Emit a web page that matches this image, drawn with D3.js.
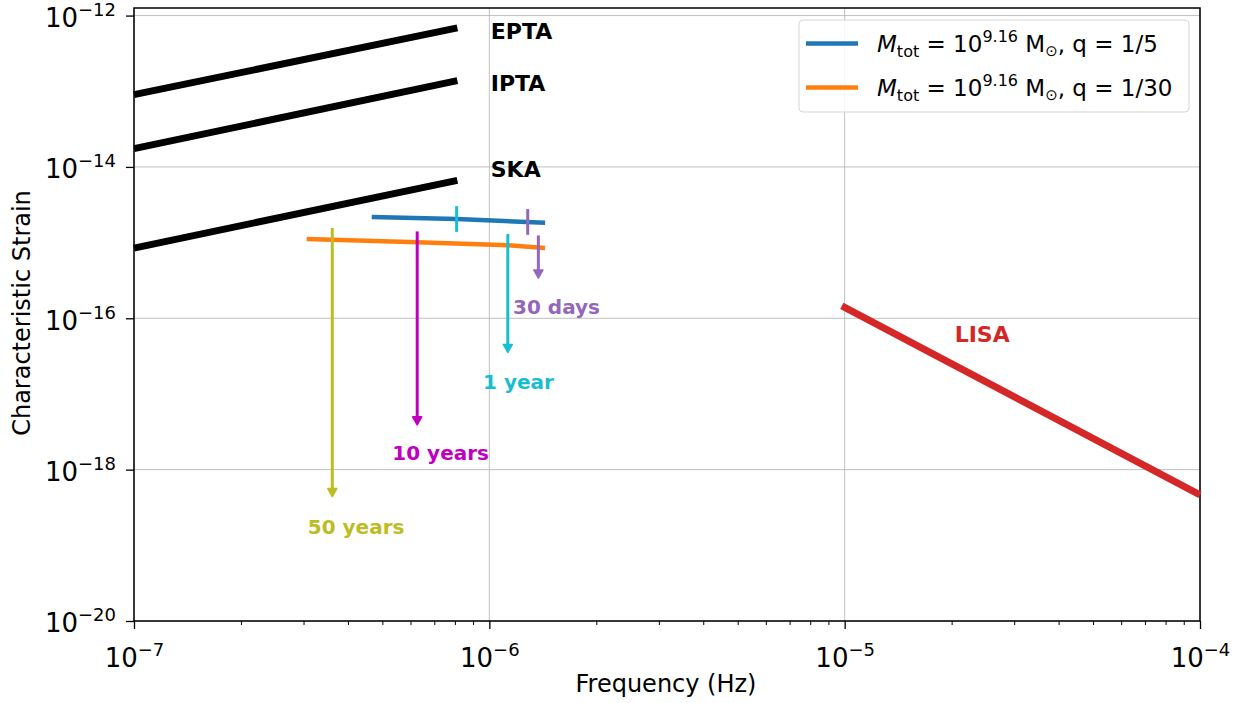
<!DOCTYPE html>
<html>
<head>
<meta charset="utf-8">
<script src="https://cdn.jsdelivr.net/npm/d3@7"></script>
<style>
  body { margin: 0; background: #fff; }
  svg { font-family: "DejaVu Sans", sans-serif; }
</style>
</head>
<body>
<svg id="canvas" width="1249" height="703"></svg>
<script>
var width = 1249, height = 703
var margin = {left: 134, right: 49, top: 8, bottom: 82}

// PTA sensitivity curves (log10 f, log10 h)
var ptaNames = ['EPTA', 'IPTA', 'SKA']
var ptaStart = [[-7, -13.045], [-7, -13.759], [-7, -15.072]]
var ptaEnd = [[-6.090, -12.163], [-6.090, -12.860], [-6.090, -14.178]]
var ptaLabelPos = [[-5.996, -12.208], [-5.996, -12.890], [-5.996, -14.027]]

// LISA
var lisaLine = [[-5.008, -15.835], [-4.0, -18.334]]
var lisaLabelPos = [-4.613, -16.205]

// binary tracks
var trackQ = ['1/5', '1/30']
var trackColors = ['#1f77b4', '#ff7f0e']
var blueTrack = [[-6.331, -14.662], [-6.092, -14.688], [-5.843, -14.737]]
var orangeTrack = [[-6.514, -14.953], [-6.203, -14.995], [-5.947, -15.035], [-5.843, -15.070]]

// ticks on the blue track
var blueTickF = [-6.092, -5.892]
var blueTickColors = ['#17becf', '#9467bd']
var blueTickHalf = 0.17

// time-to-merger arrows
var arrowNames = ['50 years', '10 years', '1 year', '30 days']
var arrowColors = ['#bcbd22', '#bf00bf', '#17becf', '#9467bd']
var arrowF = [-6.442, -6.203, -5.948, -5.862]
var arrowTop = [-14.807, -14.852, -14.887, -14.905]
var arrowTip = [-18.356, -17.408, -16.452, -15.468]
var arrowLabelPos = [[-6.375, -18.753], [-6.137, -17.782], [-5.918, -16.836], [-5.811, -15.852]]

var xTicks = [1e-7, 1e-6, 1e-5, 1e-4]
var yTicks = [1e-20, 1e-18, 1e-16, 1e-14, 1e-12]

var svg = d3.select('#canvas')

var x = d3.scaleLog().domain([1e-7, 1e-4]).range([margin.left, width - margin.right])
var y = d3.scaleLog().domain([1e-20, Math.pow(10, -11.9)]).range([height - margin.bottom, margin.top])

function px(p) { return x(Math.pow(10, p[0])) }
function py(p) { return y(Math.pow(10, p[1])) }

// grid
var grid = svg.append('g')
grid.selectAll('.gx').data(xTicks).enter().append('line')
  .attr('x1', d => x(d)).attr('x2', d => x(d))
  .attr('y1', margin.top).attr('y2', height - margin.bottom)
  .attr('stroke', '#b0b0b0').attr('stroke-width', 0.8)
grid.selectAll('.gy').data(yTicks).enter().append('line')
  .attr('x1', margin.left).attr('x2', width - margin.right)
  .attr('y1', d => y(d)).attr('y2', d => y(d))
  .attr('stroke', '#b0b0b0').attr('stroke-width', 0.8)

function supLabel(sel, exp) {
  sel.text(null)
  sel.append('tspan').text('10')
  sel.append('tspan').attr('dy', -11).attr('font-size', 18).text('\u2212' + exp)
}

// x axis
var minorX = []
for (var e = -7; e < -4; e++) for (var m = 2; m < 10; m++) minorX.push(m * Math.pow(10, e))

var xAxis = svg.append('g').attr('transform', 'translate(0,' + (height - margin.bottom) + ')')
  .call(d3.axisBottom(x).tickValues(xTicks).tickSize(8).tickPadding(20))
xAxis.select('.domain').remove()
xAxis.selectAll('line').attr('stroke-width', 1.3)
xAxis.selectAll('text').attr('font-size', 26).attr('fill', '#000')
  .attr('font-family', '"DejaVu Sans", sans-serif')
  .each(function(d) { supLabel(d3.select(this), Math.round(-Math.log10(d))) })
var xMinor = svg.append('g').attr('transform', 'translate(0,' + (height - margin.bottom) + ')')
  .call(d3.axisBottom(x).tickValues(minorX).tickSize(4).tickFormat(''))
xMinor.select('.domain').remove()
xMinor.selectAll('line').attr('stroke-width', 1)

// y axis
var yAxis = svg.append('g').attr('transform', 'translate(' + margin.left + ',0)')
  .call(d3.axisLeft(y).tickValues(yTicks).tickSize(8).tickPadding(10))
yAxis.select('.domain').remove()
yAxis.selectAll('line').attr('stroke-width', 1.3)
yAxis.selectAll('text').attr('font-size', 26).attr('fill', '#000').attr('dy', '0.42em')
  .attr('font-family', '"DejaVu Sans", sans-serif')
  .each(function(d) { supLabel(d3.select(this), Math.round(-Math.log10(d))) })

// frame
svg.append('rect')
  .attr('x', margin.left).attr('y', margin.top)
  .attr('width', width - margin.left - margin.right)
  .attr('height', height - margin.top - margin.bottom)
  .attr('fill', 'none').attr('stroke', '#000').attr('stroke-width', 1.5)

// axis titles
svg.append('text').attr('x', 666).attr('y', 692)
  .attr('text-anchor', 'middle').attr('font-size', 24).text('Frequency (Hz)')
svg.append('text').attr('transform', 'translate(30,313) rotate(-90)')
  .attr('text-anchor', 'middle').attr('font-size', 24).text('Characteristic Strain')

var plot = svg.append('g')

// PTA lines
ptaNames.forEach(function(name, i) {
  plot.append('line')
    .attr('x1', px(ptaStart[i])).attr('y1', py(ptaStart[i]))
    .attr('x2', px(ptaEnd[i])).attr('y2', py(ptaEnd[i]))
    .attr('stroke', '#000').attr('stroke-width', 7)
  plot.append('text').attr('x', px(ptaLabelPos[i])).attr('y', py(ptaLabelPos[i]))
    .attr('dy', '0.36em').attr('font-size', 22).attr('font-weight', 'bold').text(name)
})

// LISA
plot.append('path').datum(lisaLine)
  .attr('d', d3.line().x(px).y(py))
  .attr('stroke', '#d62728').attr('stroke-width', 7).attr('fill', 'none')
plot.append('text').attr('x', px(lisaLabelPos)).attr('y', py(lisaLabelPos))
  .attr('dy', '0.36em').attr('text-anchor', 'middle')
  .attr('font-size', 22).attr('font-weight', 'bold').attr('fill', '#d62728').text('LISA')

// tracks
var line = d3.line().x(px).y(py)
;[blueTrack, orangeTrack].forEach(function(t, i) {
  plot.append('path').datum(t).attr('d', line)
    .attr('stroke', trackColors[i]).attr('stroke-width', 4.5).attr('fill', 'none')
    .attr('stroke-linejoin', 'round')
})

// blue ticks
blueTickF.forEach(function(f, i) {
  var k = d3.bisector(d => d[0]).left(blueTrack, f)
  var a = blueTrack[Math.max(0, k - 1)], b = blueTrack[Math.min(blueTrack.length - 1, k)]
  var h = a[0] === b[0] ? a[1] : a[1] + (b[1] - a[1]) * (f - a[0]) / (b[0] - a[0])
  plot.append('line')
    .attr('x1', px([f])).attr('x2', px([f]))
    .attr('y1', py([f, h + blueTickHalf])).attr('y2', py([f, h - blueTickHalf]))
    .attr('stroke', blueTickColors[i]).attr('stroke-width', 3)
})

// arrows
arrowNames.forEach(function(name, i) {
  var xx = px([arrowF[i]])
  var y0 = py([0, arrowTop[i]]), y1 = py([0, arrowTip[i]])
  plot.append('line').attr('x1', xx).attr('x2', xx).attr('y1', y0).attr('y2', y1 - 6)
    .attr('stroke', arrowColors[i]).attr('stroke-width', 3)
  plot.append('path')
    .attr('d', 'M' + (xx - 4.5) + ',' + (y1 - 8) + 'L' + (xx + 4.5) + ',' + (y1 - 8) + 'L' + xx + ',' + y1 + 'Z')
    .attr('fill', arrowColors[i]).attr('stroke', arrowColors[i]).attr('stroke-width', 1.5)
    .attr('stroke-linejoin', 'round')
  plot.append('text').attr('x', px(arrowLabelPos[i])).attr('y', py(arrowLabelPos[i]))
    .attr('dy', '0.36em').attr('text-anchor', 'middle')
    .attr('font-size', 20).attr('font-weight', 'bold').attr('fill', arrowColors[i]).text(name)
})

// legend
var lg = svg.append('g')
lg.append('rect').attr('x', 799).attr('y', 20).attr('width', 390).attr('height', 92)
  .attr('rx', 4).attr('fill', '#fff').attr('fill-opacity', 0.85)
  .attr('stroke', '#d5d5d5').attr('stroke-width', 1)
trackQ.forEach(function(q, i) {
  var ly = 43.5 + i * 44
  lg.append('line').attr('x1', 806).attr('x2', 858).attr('y1', ly).attr('y2', ly)
    .attr('stroke', trackColors[i]).attr('stroke-width', 4.5)
  var t = lg.append('text').attr('x', 877).attr('y', ly + 8).attr('font-size', 23)
  t.append('tspan').attr('font-style', 'italic').text('M')
  t.append('tspan').attr('font-size', 16).attr('dy', 5).text('tot')
  t.append('tspan').attr('dy', -5).text(' = 10')
  t.append('tspan').attr('font-size', 16).attr('dy', -10).text('9.16')
  t.append('tspan').attr('dy', 10).text(' M')
  t.append('tspan').attr('font-size', 15).attr('dy', 4).text('\u2299')
  t.append('tspan').attr('dy', -4).text(', q = ' + q)
})
</script>
</body>
</html>
